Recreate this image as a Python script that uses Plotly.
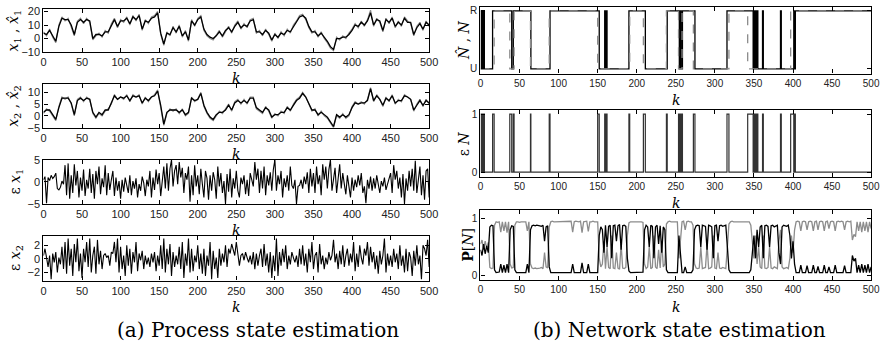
import plotly.graph_objects as go

W, H = 890, 352

# ---------------- data ----------------
# process state x1 (true, grey) and estimate x1_hat (black), sampled every 4 steps of k
x1_true = [5,2,7,1,-3,10,16,13,15,9,2,13,15,11,15,12,-1,2,4,1,6,4,11,15,8,14,12,16,10,17,13,18,6,14,11,16,17,20,3,-5,
           5,2,9,4,10,1,6,-2,14,9,15,17,6,2,0,-1,3,6,1,5,9,4,10,13,7,11,8,14,15,4,6,2,7,3,-2,4,0,5,2,7,4,10,13,17,18,14,
           8,4,6,1,5,0,-3,-7,-9,1,-1,2,0,4,7,11,8,13,9,14,21,9,15,12,5,15,11,16,8,13,9,16,13,11,2,9,12,6,13,9]
x1_hat = [4,3,6,2,-2,9,15,14,14,10,3,12,14,12,14,13,0,3,3,2,5,5,10,14,9,13,13,15,11,16,14,17,7,13,12,15,16,19,4,-4,
          4,3,8,5,9,2,5,-1,13,10,14,16,7,3,1,0,2,5,2,6,8,5,9,12,8,10,9,13,14,5,5,3,6,4,-1,3,1,4,3,6,5,9,12,16,17,15,
          9,5,5,2,4,1,-2,-6,-8,0,0,1,1,3,6,10,9,12,10,13,19,10,14,13,6,14,12,15,9,12,10,15,12,12,3,8,11,7,12,10]
x2_true = [1,3,2,0,-2,4,8,7,8,5,0,7,8,6,8,7,1,-1,1,0,2,3,5,9,7,8,7,9,6,9,8,9,5,8,6,8,9,11,4,-4,1,3,2,3,1,3,0,1,8,6,
           7,10,4,1,-1,-2,0,2,1,3,5,2,6,7,5,7,5,8,8,3,2,1,4,2,-1,1,0,2,1,4,2,5,7,8,10,8,5,2,3,0,2,0,-1,-3,-5,0,-1,1,-1,
           0,4,6,5,6,5,7,12,6,9,7,4,8,6,9,5,7,6,9,8,7,2,5,7,4,7,5]
x2_hat = [1.5,2.5,2.5,0.5,-1.5,3.5,7.5,7.5,7.5,5.5,0.5,6.5,7.5,6.5,7.5,7,1.5,-0.5,1.5,0.5,2.5,2.5,5.5,8.5,7,8,7.5,8.5,
          6.5,8.5,8,8.5,5.5,7.5,6.5,8,8.5,10.5,4.5,-3.5,1.5,2.5,2.5,2.5,1.5,2.5,0.5,1.5,7.5,6.5,7,9.5,4.5,1.5,-0.5,-1.5,
          0.5,1.5,1.5,2.5,4.5,2.5,5.5,6.5,5.5,6.5,5.5,7.5,7.5,3.5,2.5,1.5,3.5,2.5,-0.5,0.5,0.5,1.5,1.5,3.5,2.5,4.5,6.5,
          7.5,9.5,8,5.5,2.5,2.5,0.5,1.5,0.5,-0.5,-2.5,-4.5,0.5,-0.5,0.5,-0.5,0.5,3.5,5.5,5,5.5,5.5,6.5,11.5,6.5,8.5,7,
          4.5,7.5,6.5,8.5,5.5,6.5,6.5,8.5,8,7,2.5,4.5,6.5,4.5,6.5,5.5]

# estimation errors, sampled every 2 steps of k
ex1 = [0.5,1.2,-4.8,1.0,0.3,1.5,0.8,1.2,2.0,-1.5,-1.8,-1.2,0.2,-0.5,3.8,-3.0,4.2,-3.8,1.5,-2.5,4.0,-0.8,2.5,-3.5,1.0,
       -2.0,2.8,-3.2,0.5,-1.5,3.0,-2.5,1.8,-3.8,2.5,-0.5,3.5,-2.8,0.8,-1.2,3.8,-3.0,2.0,-1.8,0.5,2.5,-3.2,1.0,-2.0,0.2,
       -3.8,0.5,-2.2,1.0,-0.8,-2.5,1.5,-3.0,0.2,-1.5,0.8,-3.5,-0.5,-2.0,1.2,-0.2,-3.2,0.5,-1.0,2.5,-3.5,1.0,-1.8,2.8,-0.5,
       2.0,-3.2,0.5,3.5,-1.5,4.2,-2.0,3.0,5.0,-1.0,2.5,3.8,-0.5,4.5,1.0,3.2,-2.5,2.0,0.5,3.5,-4.5,1.5,-3.0,3.8,-1.0,
       1.5,-2.8,3.0,-0.5,-3.5,2.5,0.8,-4.0,1.5,-2.0,2.2,0.5,-3.8,3.5,-1.0,2.0,-2.5,0.2,-5.0,1.8,-2.2,3.0,-3.5,0.8,-1.5,
       2.5,-2.0,-3.5,1.0,-0.5,1.5,-2.8,0.5,-3.2,2.0,0.5,-1.0,4.5,0.5,3.0,-2.5,2.5,-1.5,3.5,-3.0,1.5,-0.8,2.2,-2.0,2.8,
       5.0,-2.0,1.5,-0.5,2.5,-3.5,0.8,-1.2,1.5,-2.0,3.5,-0.8,-1.5,0.5,-5.0,-1.0,-0.8,0.5,-1.5,1.2,-0.5,2.2,-2.5,3.0,-1.0,
       2.0,-2.5,3.5,-0.5,1.5,-3.0,4.0,0.5,3.5,-1.5,2.8,5.0,-2.0,1.0,3.2,-2.5,0.5,4.0,-1.5,2.0,-0.5,-2.8,1.5,-1.2,-3.5,
       1.0,-2.0,0.5,-1.2,1.5,-0.8,2.0,-2.5,-1.0,-4.8,0.5,-1.5,1.2,-2.0,0.8,-1.5,1.5,-0.5,-2.5,0.2,-1.0,1.0,-1.8,-0.5,0.8,
       2.0,-2.5,3.8,0.5,2.5,-1.5,1.0,-3.5,1.8,-5.0,0.8,-2.0,2.5,-1.0,3.0,-2.0,4.8,-2.5,0.5,3.5,-3.0,1.5,-4.0,2.5,3.0,-3.5]
ex2 = [0.5,1.5,0.2,-1.2,0.5,-3.0,0.8,-0.5,1.0,-2.0,0.2,-0.8,1.8,-1.5,2.5,-2.2,3.0,-1.0,1.5,-2.5,2.2,-0.5,3.0,-1.8,0.8,
       -2.8,1.5,-0.5,2.5,-1.2,3.0,-2.0,0.5,1.8,-2.2,2.8,-0.8,1.2,-1.5,0.5,0.8,0.2,0.5,-1.0,1.0,0.8,2.5,-0.5,3.0,-2.0,
       1.8,-1.5,0.5,-2.5,2.0,-1.0,1.5,-2.2,1.0,-0.5,2.5,-1.8,0.8,-0.2,1.2,-1.5,0.5,-0.8,0.2,-1.2,0.8,-0.5,1.0,-1.8,0.5,
       -1.0,2.0,-1.5,3.0,-2.0,1.5,-0.8,2.2,-2.5,1.0,-1.2,0.5,-0.8,1.8,-1.5,2.5,-2.8,0.8,-1.0,3.0,-2.0,1.5,-1.8,0.5,-0.5,
       2.0,-1.5,0.8,-2.2,1.5,-2.5,0.5,-1.0,2.5,-3.0,1.2,-1.5,0.2,-2.8,1.5,-1.0,0.8,-0.5,2.0,-1.2,1.5,0.8,2.2,1.5,0.5,
       2.5,0.2,-1.0,0.5,0.8,-0.2,1.0,0.2,-0.5,0.5,-0.8,1.0,-1.5,0.8,-1.0,0.5,1.5,-1.2,2.2,-1.0,0.8,-2.0,1.0,-2.8,0.5,
       -1.8,3.0,-2.5,1.0,-1.0,1.5,-0.5,2.0,-1.5,0.5,-0.8,1.0,0.2,-0.5,0.5,-1.2,1.5,-0.8,2.0,-1.0,0.8,-2.0,1.5,-0.5,2.5,
       -1.5,0.5,1.0,-2.0,2.2,-0.8,0.5,-1.5,0.2,-0.8,1.0,-0.2,0.5,2.8,-0.5,0.8,-1.5,1.2,-0.8,2.0,-1.2,0.5,1.5,-1.0,0.8,
       -0.5,2.5,-1.8,0.8,-1.2,2.0,0.2,-0.8,1.5,0.5,2.5,-1.0,1.8,-0.5,1.0,-1.5,0.5,-2.2,1.2,-0.8,0.5,3.0,-2.0,0.8,-1.0,
       0.5,-1.2,1.5,-0.5,0.8,-1.5,2.0,-1.0,0.5,-2.0,1.5,-1.8,1.0,0.2,-2.5,1.2,-1.0,2.0,-0.8,0.5,-3.0,2.0,1.5,0.5,2.8,-1.2]

# network state: switching instants and state after the switch (0 = U, 1 = R)
N_true_k = [0, 17.5, 37.5, 43, 64, 88, 150, 191, 208.5, 238, 253.5, 258, 272.5, 318, 342, 397, 500]
N_true_v = [0, 1, 0, 1, 0, 1, 0, 1, 0, 1, 0, 1, 0, 1, 0, 1, 1]
N_hat_k = [0, 1, 2, 3, 4, 5, 15.5, 40, 42, 64.5, 89, 152, 159, 160, 161, 162, 190, 211, 239, 254.5, 256, 256.8,
           258.5, 274.5, 315.5, 349, 350, 351, 352, 353, 354, 355, 361, 362, 384, 385, 401, 402, 403, 500]
N_hat_v = [1, 0, 1, 0, 1, 0, 1, 0, 1, 0, 1, 0, 1, 0, 1, 0, 1, 0, 1, 0, 1, 0,
           1, 0, 1, 0, 1, 0, 1, 0, 1, 0, 1, 0, 1, 0, 1, 0, 1, 1]
eN_k = [0, 1, 2, 3, 4, 5, 15.5, 17.5, 37.5, 40, 42, 43, 64, 64.5, 88, 89, 150, 152, 159, 160, 161, 162, 190, 191,
        208.5, 211, 238, 239, 253.5, 254.5, 256, 256.8, 258, 258.5, 272.5, 274.5, 315.5, 318, 342, 349, 350, 351,
        352, 353, 354, 355, 361, 362, 384, 385, 397, 401, 402, 403, 500]
eN_v = [1, 0, 1, 0, 1, 0, 1, 0, 1, 0, 1, 0, 1, 0, 1, 0, 1, 0, 1, 0, 1, 0, 1, 0,
        1, 0, 1, 0, 1, 0, 1, 0, 1, 0, 1, 0, 1, 0, 1, 0, 1, 0,
        1, 0, 1, 0, 1, 0, 1, 0, 1, 0, 1, 0, 0]

# mode probabilities, sampled every 2 steps of k
P_U = [0.45,0.35,0.55,0.38,0.52,0.40, 0.85,0.88,0.87,
       0.10,0.05,0.05,0.06,0.20,0.05,0.18,0.05,0.20,0.05, 0.80,0.87,0.86,
       0.10,0.05,0.05,0.05,0.06,0.05,0.05,0.05,0.20,0.05,
       0.80,0.87,0.88,0.87,0.88,0.88,0.87,0.86,0.88,0.60,0.85,0.87,
       0.15,0.05,0.05,0.05,0.05,0.05,0.05,0.05,0.05,0.05,0.05,0.05,0.05,0.05,0.05,0.20,0.05,0.05,0.05,0.05,0.05,0.22,
       0.05,0.05,0.05,0.20,0.05,0.05,0.05,0.05,0.05,0.05,
       0.70,0.85,0.80,0.40,0.88,0.50,0.86,0.88,0.30,0.87,0.88,0.60,0.87,0.89,0.45,0.87,0.88,0.86,0.30,
       0.08,0.05,0.05,0.05,0.05,0.05,0.05,0.05,0.05,0.06,
       0.80,0.88,0.85,0.50,0.88,0.86,0.30,0.85,0.88,0.55,0.87,0.40,0.85,0.80,
       0.10,0.05,0.05,0.05,0.05,0.05,0.05,0.05, 0.70,0.35,
       0.05,0.05,0.15,0.05,0.05,0.05,0.05,0.10,
       0.80,0.87,0.88,0.87,0.50,0.88,0.87,0.86,0.45,0.88,0.87,0.85,0.30,0.87,0.88,0.60,0.87,0.88,0.86,0.87,0.88,0.50,
       0.10,0.05,0.05,0.05,0.05,0.05,0.05,0.05,0.05,0.05,0.05,0.05,0.05,0.05,0.10,
       0.40,0.70,0.30,0.80,0.50,
       0.85,0.88,0.30,0.87,0.88,0.86,0.50,0.87,0.88,0.85,0.87,0.88,0.40,0.20,0.85,0.88,0.87,0.86,0.88,0.70,
       0.30,0.60,0.20,
       0.05,0.05,0.05,0.18,0.05,0.05,0.05,0.17,0.05,0.05,0.05,0.18,0.05,0.05,0.16,0.05,0.05,0.05,0.18,0.05,0.05,0.15,
       0.05,0.05,0.05,0.18,0.05,0.05,0.05,0.05,0.05,0.17,0.05,0.05,0.05,0.05,0.35,0.25,0.30,0.05,0.18,0.05,0.20,0.05,
       0.18,0.05,0.20,0.05,0.15]
P_R = [0.55,0.62,0.45,0.60,0.48,0.58, 0.14,0.12,0.13,
       0.88,0.94,0.93,0.94,0.76,0.94,0.78,0.94,0.75,0.94, 0.20,0.13,0.14,
       0.88,0.94,0.94,0.93,0.94,0.94,0.93,0.94,0.78,0.94,
       0.20,0.13,0.12,0.13,0.12,0.12,0.13,0.14,0.12,0.40,0.15,0.13,
       0.85,0.94,0.95,0.94,0.94,0.95,0.94,0.94,0.95,0.94,0.94,0.95,0.94,0.94,0.95,0.76,0.94,0.95,0.94,0.94,0.95,0.75,
       0.94,0.94,0.95,0.77,0.94,0.94,0.95,0.94,0.94,0.94,
       0.30,0.15,0.20,0.60,0.12,0.50,0.14,0.12,0.70,0.13,0.12,0.40,0.13,0.11,0.55,0.13,0.12,0.14,0.70,
       0.92,0.94,0.94,0.95,0.94,0.94,0.95,0.94,0.94,0.93,
       0.20,0.12,0.15,0.50,0.12,0.14,0.70,0.15,0.12,0.45,0.13,0.60,0.15,0.20,
       0.90,0.94,0.95,0.94,0.94,0.95,0.94,0.94, 0.30,0.65,
       0.94,0.95,0.80,0.94,0.95,0.94,0.94,0.88,
       0.20,0.13,0.12,0.13,0.50,0.12,0.13,0.14,0.55,0.12,0.13,0.15,0.70,0.13,0.12,0.40,0.13,0.12,0.14,0.13,0.12,0.50,
       0.90,0.94,0.95,0.94,0.94,0.95,0.94,0.94,0.95,0.94,0.94,0.95,0.94,0.94,0.88,
       0.60,0.30,0.70,0.20,0.50,
       0.15,0.12,0.70,0.13,0.12,0.14,0.50,0.13,0.12,0.15,0.13,0.12,0.60,0.80,0.15,0.12,0.13,0.14,0.12,0.30,
       0.70,0.40,0.80,
       0.94,0.95,0.94,0.78,0.94,0.95,0.94,0.80,0.94,0.95,0.94,0.78,0.94,0.95,0.80,0.94,0.95,0.94,0.78,0.94,0.95,0.82,
       0.94,0.95,0.94,0.78,0.94,0.95,0.94,0.95,0.94,0.80,0.94,0.95,0.94,0.95,0.62,0.72,0.68,0.94,0.78,0.94,0.76,0.94,
       0.78,0.94,0.76,0.94,0.82]

k_ticks = list(range(0, 501, 50))

def kgrid(vals, step):
    return [step * i for i in range(len(vals))]

# ---------------- layout helpers (pixel boxes) ----------------
LEFT = (41, 432)
RIGHT = (484, 880)
panels = [
    # (xbox, ytop, ybottom, yrange, yticks, yticktext)
    (LEFT, 3.3, 47.7, [-10, 21.7], [-10, 0, 10, 20], None),
    (LEFT, 81, 126, [-5, 13.4], [-5, 0, 5, 10], None),
    (LEFT, 159.3, 205, [-5, 5], [-5, 0, 5], None),
    (LEFT, 238.3, 284.3, [-3.2, 3.35], [-2, 0, 2], None),
    (RIGHT, 1, 70, [-0.083, 1.067], [0, 1], ['U', 'R']),
    (RIGHT, 108, 177, [-0.083, 1.067], [0, 1], None),
    (RIGHT, 211, 284, [-0.085, 1.15], [0, 1], None),
]

fig = go.Figure()
layout = dict(width=W, height=H, margin=dict(l=0, r=0, t=0, b=0), autosize=False,
              paper_bgcolor='white', plot_bgcolor='white', showlegend=False)
tickfont_l = dict(family='Liberation Sans, Arial, sans-serif', size=11, color='#222')
tickfont_r = dict(family='Liberation Sans, Arial, sans-serif', size=10, color='#222')
annotations = []
for n, (xb, yt, ybm, yr, ytk, ytt) in enumerate(panels, start=1):
    tf = tickfont_l if xb == LEFT else tickfont_r
    xa = dict(domain=[xb[0] / W, xb[1] / W], anchor=f'y{n}', range=[0, 500],
              tickvals=k_ticks, ticks='inside', ticklen=4, tickcolor='black', tickwidth=1,
              showline=True, mirror='ticks', linecolor='black', linewidth=1.3,
              showgrid=False, zeroline=False, tickfont=tf, ticklabelstandoff=0)
    ya = dict(domain=[1 - ybm / H, 1 - yt / H], anchor=f'x{n}', range=yr,
              tickvals=ytk, ticks='inside', ticklen=4, tickcolor='black', tickwidth=1,
              showline=True, mirror='ticks', linecolor='black', linewidth=1.3,
              showgrid=False, zeroline=False, tickfont=tf)
    if ytt is not None:
        ya['ticktext'] = ytt
    layout['xaxis' if n == 1 else f'xaxis{n}'] = xa
    layout['yaxis' if n == 1 else f'yaxis{n}'] = ya
    # x-axis title "k", just under the 250 tick label
    kx = xb[0] + (xb[1] - xb[0]) * 0.5
    annotations.append(dict(text='<i>k</i>', x=kx / W, y=1 - (ybm + 17) / H, xref='paper', yref='paper',
                            showarrow=False, font=dict(family='DejaVu Serif', size=14, color='black'),
                            xanchor='center', yanchor='top'))

ylabels = [
    ('<i>x</i><sub>1</sub> , <i>x\u0302</i><sub>1</sub>', 11, 25.5),
    ('<i>x</i><sub>2</sub> , <i>x\u0302</i><sub>2</sub>', 11, 103.5),
    ('\u03b5 <i>x</i><sub>1</sub>', 13, 182),
    ('\u03b5 <i>x</i><sub>2</sub>', 13, 261),
    ('<i>N\u0302</i> , <i>N</i>', 467, 35.5),
    ('\u03b5 <i>N</i>', 467, 142.5),
    ('<b>P</b>[<i>N</i>]', 471, 247.5),
]
for txt, xx, yy in ylabels:
    annotations.append(dict(text=txt, x=xx / W, y=1 - yy / H, xref='paper', yref='paper', textangle=-90,
                            showarrow=False, font=dict(family='DejaVu Serif', size=14, color='black'),
                            xanchor='center', yanchor='middle'))

annotations.append(dict(text='(a) Process state estimation', x=258 / W, y=1 - 335 / H, xref='paper', yref='paper',
                        showarrow=False, font=dict(family='DejaVu Serif', size=20, color='black'),
                        xanchor='center', yanchor='middle'))
annotations.append(dict(text='(b) Network state estimation', x=686 / W, y=1 - 335 / H, xref='paper', yref='paper',
                        showarrow=False, font=dict(family='DejaVu Serif', size=20, color='black'),
                        xanchor='center', yanchor='middle'))
layout['annotations'] = annotations

GREY = '#8c8c8c'
# left panels
fig.add_trace(go.Scatter(x=kgrid(x1_true, 4), y=x1_true, mode='lines', line=dict(color=GREY, width=1.2), xaxis='x', yaxis='y'))
fig.add_trace(go.Scatter(x=kgrid(x1_hat, 4), y=x1_hat, mode='lines', line=dict(color='black', width=1.3), xaxis='x', yaxis='y'))
fig.add_trace(go.Scatter(x=kgrid(x2_true, 4), y=x2_true, mode='lines', line=dict(color=GREY, width=1.2), xaxis='x2', yaxis='y2'))
fig.add_trace(go.Scatter(x=kgrid(x2_hat, 4), y=x2_hat, mode='lines', line=dict(color='black', width=1.3), xaxis='x2', yaxis='y2'))
fig.add_trace(go.Scatter(x=kgrid(ex1, 2), y=ex1, mode='lines', line=dict(color='black', width=1.1), xaxis='x3', yaxis='y3'))
fig.add_trace(go.Scatter(x=kgrid(ex2, 2), y=ex2, mode='lines', line=dict(color='black', width=1.1), xaxis='x4', yaxis='y4'))
# right panels
fig.add_trace(go.Scatter(x=N_hat_k, y=N_hat_v, mode='lines', line=dict(color='black', width=1.3, shape='hv'), xaxis='x5', yaxis='y5'))
fig.add_trace(go.Scatter(x=N_true_k, y=N_true_v, mode='lines', line=dict(color=GREY, width=1.3, shape='hv', dash='dash'), xaxis='x5', yaxis='y5'))
fig.add_trace(go.Scatter(x=eN_k, y=eN_v, mode='lines', line=dict(color='#333', width=1.2, shape='hv'), xaxis='x6', yaxis='y6'))
fig.add_trace(go.Scatter(x=kgrid(P_R, 2), y=P_R, mode='lines', line=dict(color=GREY, width=1.3), xaxis='x7', yaxis='y7'))
fig.add_trace(go.Scatter(x=kgrid(P_U, 2), y=P_U, mode='lines', line=dict(color='black', width=1.3), xaxis='x7', yaxis='y7'))

fig.update_layout(**layout)
fig.write_html('out.html')
